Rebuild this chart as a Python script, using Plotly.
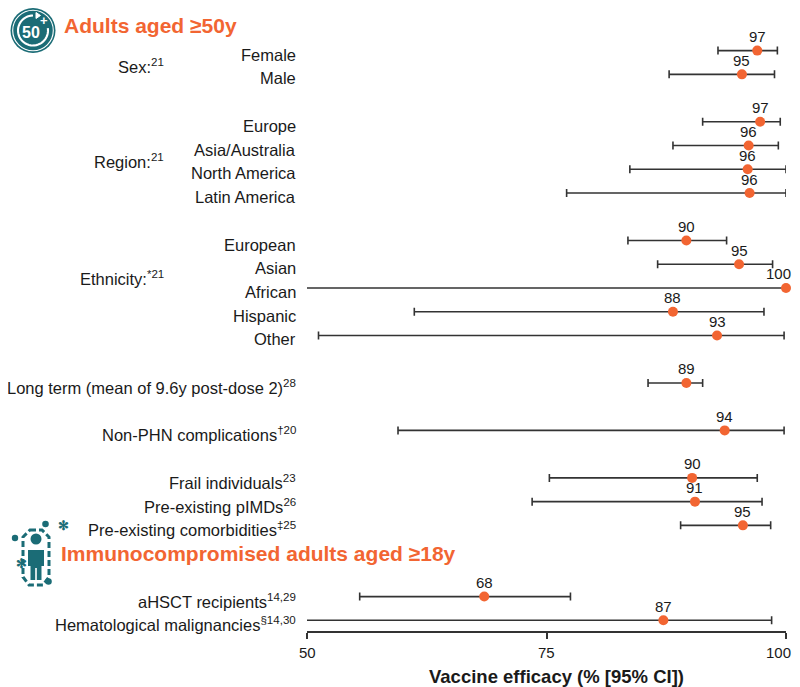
import numpy as np
import plotly.graph_objects as go

# forest plot data (row index from top, point estimate, 95% CI)
rows = ["Female", "Male",
        "Europe", "Asia/Australia", "North America", "Latin America",
        "European", "Asian", "African", "Hispanic", "Other",
        "Long term (mean of 9.6y post-dose 2)<sup>28</sup>",
        "Non-PHN complications<sup>\u202020</sup>",
        "Frail individuals<sup>23</sup>",
        "Pre-existing pIMDs<sup>26</sup>",
        "Pre-existing comorbidities<sup>\u202125</sup>",
        "aHSCT recipients<sup>14,29</sup>",
        "Hematological malignancies<sup>\u00a714,30</sup>"]
row_pos = [0, 1, 3, 4, 5, 6, 8, 9, 10, 11, 12, 14, 16, 18, 19, 20, 23, 24]
efficacy = [97.0, 95.4, 97.3, 96.1, 96.0, 96.2, 89.6, 95.1, 100.0, 88.2, 92.8,
            89.6, 93.6, 90.2, 90.5, 95.5, 68.5, 87.2]
ci_low = [92.9, 87.8, 91.3, 88.2, 83.7, 77.1, 83.5, 86.6, 25.0, 61.2, 51.2,
          85.6, 59.5, 75.3, 73.5, 89.0, 55.5, 44.3]
ci_high = [99.1, 98.8, 99.4, 99.2, 100.0, 100.0, 93.8, 98.6, 100.0, 97.7, 99.8,
           91.3, 99.8, 97.0, 97.5, 98.4, 77.5, 98.5]
value_labels = ["97", "95", "97", "96", "96", "96", "90", "95", "100", "88", "93",
                "89", "94", "90", "91", "95", "68", "87"]

groups = ["Sex:<sup>21</sup>", "Region:<sup>21</sup>", "Ethnicity:<sup>*21</sup>"]
group_pos = [0.5, 4.5, 9.4]

x_ticks = [50, 75, 100]

ORANGE = "#F26532"
TEAL = "#1B6C76"
INK = "#1a1a1a"
FONT = "Liberation Sans, Arial, sans-serif"

# the page puts the figure 8px in from the top-left corner, so the figure
# is a bit narrower and the margins are shifted to keep the plot in place
OFF = 8
W, H = 800 - 2 * OFF, 687
PL, PR, PT, PB = 307, 786, 15, 631      # plot area as seen on screen
EDGE = 800 - OFF                         # right edge of the drawable area


def px(x):
    return (x - PL) / (PR - PL)


def py(y):
    return (PB - y) / (PB - PT)


def xpix(v):
    return PL + (v - 50) / 50 * (PR - PL)


err_plus = [h - e for h, e in zip(ci_high, efficacy)]
err_minus = [e - l for e, l in zip(efficacy, ci_low)]

fig = go.Figure()
fig.add_trace(go.Scatter(
    x=efficacy, y=row_pos, mode="markers",
    marker=dict(size=10, color="rgba(0,0,0,0)"),
    error_x=dict(type="data", symmetric=False, array=err_plus, arrayminus=err_minus,
                 color="#333333", thickness=1.6, width=4),
    cliponaxis=True, hoverinfo="skip", showlegend=False))
fig.add_trace(go.Scatter(
    x=efficacy, y=row_pos, mode="markers",
    marker=dict(size=10, color=ORANGE),
    cliponaxis=False, showlegend=False))

annotations = []
# value labels above the dots (pulled in if they would run off the page)
for v, y, lab in zip(efficacy, row_pos, value_labels):
    half = 4.2 * len(lab)
    shift = min(0, EDGE - 1 - (xpix(v) + half))
    annotations.append(dict(x=v, y=y, xref="x", yref="y", text=lab, showarrow=False,
                            yshift=14, xshift=shift, xanchor="center", yanchor="middle",
                            font=dict(size=15, color=INK)))
# tick labels
for v in x_ticks:
    half = 4.2 * len(str(v))
    shift = min(0, EDGE - 1 - (xpix(v) + half))
    annotations.append(dict(x=v, y=py(652), xref="x", yref="paper", text=str(v),
                            showarrow=False, xshift=shift, xanchor="center",
                            yanchor="middle", font=dict(size=15, color=INK)))
for lab, y in zip(rows, row_pos):
    annotations.append(dict(x=px(298), xref="paper", y=y, yref="y", text=lab,
                            showarrow=False, xanchor="right", yanchor="middle",
                            yshift=-4, font=dict(size=16.5, color=INK)))
for lab, y in zip(groups, group_pos):
    annotations.append(dict(x=px(166), xref="paper", y=y, yref="y", text=lab,
                            showarrow=False, xanchor="right", yanchor="middle",
                            yshift=-4, font=dict(size=16.5, color=INK)))

annotations += [
    dict(x=px(62), y=py(25), xref="paper", yref="paper", text="<b>Adults aged \u226550y</b>",
         showarrow=False, xanchor="left", yanchor="middle",
         font=dict(size=21, color=ORANGE)),
    dict(x=px(59), y=py(553), xref="paper", yref="paper",
         text="<b>Immunocompromised adults aged \u226518y</b>",
         showarrow=False, xanchor="left", yanchor="middle",
         font=dict(size=21, color=ORANGE)),
    dict(x=px(556), y=py(676), xref="paper", yref="paper",
         text="<b>Vaccine efficacy (% [95% CI])</b>",
         showarrow=False, xanchor="center", yanchor="middle",
         font=dict(size=18.5, color=INK)),
    # icon 1 text
    dict(x=px(31), y=py(32), xref="paper", yref="paper", text="<b>50</b>",
         showarrow=False, xanchor="center", yanchor="middle",
         font=dict(size=16, color="white")),
    dict(x=px(43.5), y=py(21), xref="paper", yref="paper", text="<b>+</b>",
         showarrow=False, xanchor="center", yanchor="middle",
         font=dict(size=13, color="white")),
    # icon 2 gears
    dict(x=px(55.5), y=py(535), xref="paper", yref="paper", text="<b>\u273b</b>",
         showarrow=False, font=dict(size=13, color=TEAL)),
    dict(x=px(14), y=py(573), xref="paper", yref="paper", text="<b>\u273b</b>",
         showarrow=False, font=dict(size=13, color=TEAL)),
]


def circle(cx, cy, r, **kw):
    return dict(type="circle", xref="paper", yref="paper",
                x0=px(cx - r), x1=px(cx + r), y0=py(cy + r), y1=py(cy - r), **kw)


def poly(pts, close=False):
    s = "M " + " L ".join(f"{px(a):.5f},{py(b):.5f}" for a, b in pts)
    return s + (" Z" if close else "")


# icon 1: "50+" badge
CX, CY = 33, 30.5
shapes = [
    circle(CX, CY, 22.5, fillcolor=TEAL, line=dict(width=0)),
    circle(CX, CY, 20.3, fillcolor="rgba(0,0,0,0)", line=dict(color="white", width=1.1)),
]
ang = np.linspace(np.pi * 0.5, np.pi * 2.05, 40)
arc = [(CX + 15 * np.cos(a), CY - 15 * np.sin(a)) for a in ang]
shapes.append(dict(type="path", xref="paper", yref="paper", path=poly(arc),
                   line=dict(color="white", width=2.1)))
shapes.append(dict(type="path", xref="paper", yref="paper",
                   path=poly([(CX + 3, CY - 18), (CX + 7.5, CY - 15), (CX + 3, CY - 12)],
                             close=True),
                   fillcolor="white", line=dict(color="white", width=1)))

# icon 2: person with dashed halo
shapes += [
    circle(36, 539, 5.5, fillcolor=TEAL, line=dict(width=0)),
    dict(type="path", xref="paper", yref="paper", fillcolor=TEAL, line=dict(width=0),
         path=poly([(28, 550), (44, 550), (44, 566), (41.5, 566), (41.5, 580), (36.8, 580),
                    (36.8, 568), (35.2, 568), (35.2, 580), (30.5, 580), (30.5, 566), (28, 566)],
                   close=True)),
    dict(type="path", xref="paper", yref="paper",
         path=poly([(30, 530), (42, 530), (49, 537), (49, 577), (43, 585), (29, 585),
                    (23, 577), (23, 537)], close=True),
         line=dict(color=TEAL, width=3, dash="6px,3px")),
    circle(45.5, 524, 3.3, fillcolor=TEAL, line=dict(width=0)),
    circle(15, 538, 3.2, fillcolor=TEAL, line=dict(width=0)),
    circle(48.5, 581.5, 3.3, fillcolor=TEAL, line=dict(width=0)),
]

fig.update_layout(
    width=W, height=H,
    margin=dict(l=PL - OFF, r=W - (PR - OFF), t=PT - OFF, b=H - (PB - OFF)),
    plot_bgcolor="white", paper_bgcolor="white",
    font=dict(family=FONT, color=INK),
    annotations=annotations, shapes=shapes,
    xaxis=dict(range=[50, 100], tickvals=x_ticks, ticks="outside", ticklen=6,
               tickwidth=1.6, tickcolor="#333333", showline=True, linecolor="#333333",
               linewidth=1.6, showgrid=False, zeroline=False, automargin=False,
               showticklabels=False),
    yaxis=dict(range=[24.45, -1.5], visible=False, showgrid=False, zeroline=False),
)

fig.write_html("out.html")
